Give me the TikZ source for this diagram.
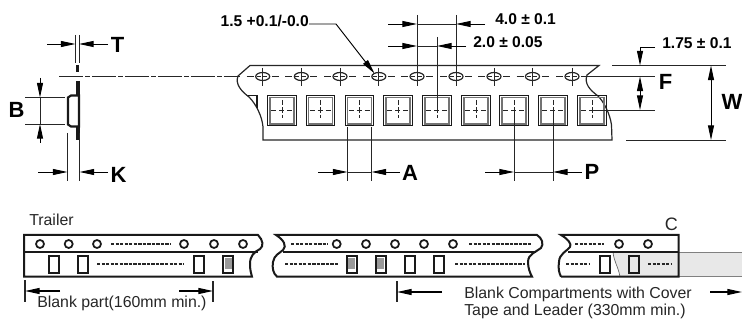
\documentclass[tikz,border=0pt]{standalone}
\usepackage{fontspec}
\setmainfont{Liberation Sans}
\usetikzlibrary{arrows.meta}
\tikzset{
  dim/.style={line width=0.7pt,black!85},
  ar/.style={line width=0.7pt,-{Stealth[length=11pt,width=4.5pt,inset=0pt]}},
  tape/.style={line width=0.9pt,black!85},
  tapeb/.style={line width=1.5pt,black!90},
  big/.style={font=\fontsize{16.5}{16.5}\selectfont\bfseries,inner sep=0pt},
  val/.style={font=\fontsize{11.7}{12}\selectfont\bfseries,inner sep=0pt,anchor=west},
  txt/.style={font=\fontsize{11.9}{12}\selectfont,inner sep=0pt,anchor=west,black!85},
  dd/.style={line width=1.5pt,dash pattern=on 2.5pt off 0.9pt,black!85},
  hole/.style={line width=1.3pt,black!90},
  comp/.style={line width=1.2pt,black!90},
}
\newcommand{\hcomp}[2]{\draw[comp] (#1-5,#2-8.5) rectangle (#1+5,#2+8.5);}
\newcommand{\fcomp}[2]{\fill[black!40] (#1-3.5,#2-6) rectangle (#1+3.5,#2+4.5);
  \draw[line width=1.8pt,black!90] (#1-5,#2-8.5) rectangle (#1+5,#2+8.5);}
\begin{document}
\begin{tikzpicture}[x=0.75pt,y=-0.75pt]
\useasboundingbox (0,0) rectangle (742,320);
% side view
\draw[dim] (75.5,35) -- (75.5,63) (79,35) -- (79,63);
\coordinate (tl) at (75.5,44); \coordinate (tr) at (79,44);
\draw[ar] (47,44) -- (tl); \draw[ar] (108,44) -- (tr);
\node[big] (T) at (117.5,44.5) {T};
\draw[line width=2.4pt,black!90] (77.5,65) -- (77.5,72);
\draw[dim,dash pattern=on 18pt off 1.6pt on 3.5pt off 1.6pt] (59,76.5) -- (240,76.5);
\draw[line width=2.6pt,black!90] (78,81) -- (78,95) (78,127) -- (78,140);
\draw[line width=1.6pt,black!90,line join=miter] (79,95.5) -- (71,95.5) -- (68,97.5) -- (68,124.5) -- (71,126.5) -- (79,126.5) -- cycle;
\draw[dim] (25,97.5) -- (65,97.5) (25,124) -- (65,124);
\coordinate (bt) at (40,97.5); \coordinate (bb) at (40,124);
\draw[dim] (bt) -- (bb);
\draw[ar] (40,78) -- (bt); \draw[ar] (40,143) -- (bb);
\node[big] (B) at (16.5,110) {B};
\draw[dim] (67.5,133) -- (67.5,181) (79.5,133) -- (79.5,181);
\coordinate (kl) at (67.5,172); \coordinate (kr) at (79.5,172);
\draw[ar] (38,172) -- (kl); \draw[ar] (108,172) -- (kr);
\node[big] (K) at (118.5,174.5) {K};
% main tape outline
\draw[tape] (238,76) -- (250,65.5) -- (599,65.5) -- (587,75)
  .. controls (584,84) and (590,90) .. (598,96) .. controls (604,102) and (610,114) .. (611.5,125) -- (612,140) -- (263,140) -- (263,127)
  .. controls (262,116) and (256,104) .. (249,97) .. controls (241,91) and (235,84) .. (238,76);
\draw[comp] (248,95.5) -- (257,95.5) -- (257,108);
% holes
\foreach \x in {262.7,301.3,340,378.8,417,456,494,532.5,572}{
  \draw[dim] (\x,68) -- (\x,86);
  \draw[dim] (\x-16,76.5) -- (\x-9,76.5) (\x+9,76.5) -- (\x+16,76.5);
  \draw[tape,fill=white] (\x,76.5) ellipse (7 and 4);
  \draw[dim,densely dashed] (\x-6,76.5) -- (\x+6,76.5);
  \draw[dim] (\x,73) -- (\x,80);
}
% compartments
\foreach \x in {282,320.5,359.5,398,437,476,514,553,592}{
  \draw[line width=0.9pt,black!90] (\x-14.2,95.7) rectangle (\x+14.2,125.7);
  \draw[line width=1.2pt,black!55] (\x-12,97.5) rectangle (\x+12,124);
  \draw[dim,dash pattern=on 4pt off 2pt] (\x-11,110) -- (\x+11,110);
  \draw[dim,dash pattern=on 4pt off 1.5pt] (\x,100) -- (\x,118);
}
% hole dia leader
\node[val,anchor=east] (hd) at (309,21) {1.5 +0.1/-0.0};
\coordinate (hs) at (309,24); \coordinate (hk) at (336,24); \coordinate (ht) at (374.5,73.5);
\draw[ar] (hs) -- (hk) -- (ht);
% 4.0 and 2.0
\draw[dim] (417,15) -- (417,70) (456,15) -- (456,70);
\draw[dim] (437,37) -- (437,110);
\coordinate (p0l) at (417,24); \coordinate (p0r) at (456,24);
\draw[dim] (p0l) -- (p0r);
\draw[ar] (388,24) -- (p0l); \draw[ar] (485,24) -- (p0r);
\node[val] (v4) at (495,19) {4.0 ± 0.1};
\coordinate (p2l) at (417,46); \coordinate (p2r) at (437,46);
\draw[dim] (p2l) -- (p2r);
\draw[ar] (388,46) -- (p2l); \draw[ar] (466,46) -- (p2r);
\node[val] (v2) at (473,42) {2.0 ± 0.05};
% right dims
\draw[dim] (612,65.5) -- (726,65.5);
\draw[dim] (626,140) -- (726,140);
\draw[dim] (586,76.5) -- (655,76.5);
\draw[dim] (592,110) -- (655,110);
\node[val] (v175) at (662,43) {1.75 ± 0.1};
\coordinate (la) at (640,65.5);
\draw[ar] (655,47) -- (640,47) -- (la);
\coordinate (fa) at (640,76.5); \coordinate (fb) at (640,110);
\draw[ar,{Stealth[length=11pt,width=4.5pt,inset=0pt]}-{Stealth[length=11pt,width=4.5pt,inset=0pt]}] (fa) -- (fb);
\node[big] (F) at (665.5,81.5) {F};
\coordinate (wa) at (711,65.5); \coordinate (wb) at (711,140);
\draw[ar,{Stealth[length=11pt,width=4.5pt,inset=0pt]}-{Stealth[length=11pt,width=4.5pt,inset=0pt]}] (wa) -- (wb);
\node[big] (W) at (732,102) {W};
% A
\draw[dim] (347.5,127) -- (347.5,181) (371.5,127) -- (371.5,181);
\coordinate (al) at (347.5,172); \coordinate (ar) at (371.5,172);
\draw[dim] (al) -- (ar);
\draw[ar] (318,172) -- (al); \draw[ar] (400,172) -- (ar);
\node[big] (A) at (410,172.5) {A};
% P
\draw[dim] (514,110) -- (514,181) (553,110) -- (553,181);
\coordinate (pl) at (514,172); \coordinate (pr) at (553,172);
\draw[dim] (pl) -- (pr);
\draw[ar] (485,172) -- (pl); \draw[ar] (582,172) -- (pr);
\node[big] (P) at (592,172) {P};
% lower strips
\fill[black!9] (679,252) rectangle (742,276.7);
\draw[line width=0.6pt,black!50] (679,252) -- (742,252) (679,276.7) -- (742,276.7);
\fill[black!9] (613,252) .. controls (614,262) and (618,266) .. (620,276.7) -- (678.7,276.7) -- (678.7,252) -- cycle;
\draw[line width=0.5pt,black!60] (613,252) .. controls (614,262) and (618,266) .. (620,276.7);
% strip 1
\draw[tapeb] (24,276.7) -- (24,235) -- (258,235) .. controls (263,240) and (264,246) .. (260,249)
  .. controls (254,252) and (250,256) .. (250,264) .. controls (250,270) and (251,273) .. (252,276.7) -- cycle;
\draw[tapeb] (24,251.7) -- (258,251.7);
% strip 2
\draw[tapeb] (276,235) -- (537,235) .. controls (542,238) and (544,244) .. (541,248)
  .. controls (536,252) and (528,254) .. (528,262) .. controls (528,268) and (530,273) .. (532,276.7)
  -- (277,276.7) .. controls (273,273) and (272,268) .. (273,262) .. controls (274,255) and (280,253) .. (283,250)
  .. controls (287,246) and (284,240) .. (276,235) -- cycle;
\draw[tapeb] (283,251.7) -- (536,251.7);
% strip 3
\draw[tapeb] (561,276.7) -- (678.7,276.7) -- (678.7,235) -- (561,235) .. controls (568,239) and (572,244) .. (570,247)
  .. controls (567,251) and (559,254) .. (559,262) .. controls (558,268) and (559,273) .. (561,276.7);
\draw[tapeb] (568,251.7) -- (678.7,251.7);
% holes
\foreach \x in {40,68.7,97,184,214,243,336.7,366,395,424,453,619,648}{
  \draw[hole] (\x,244) circle (4);
}
% compartments lower
\foreach \x in {54,83,199,410,439,604.7,634}{ \hcomp{\x}{264.5} }
\foreach \x in {228,351.7,380.7}{ \fcomp{\x}{264.5} }
% dashed runs
\foreach \a/\b/\y in {111/170/244,97/184/264.5,291/328/244,469/532/244,285/338/264.5,455/525/264.5,575/604/244,566/590/264.5,648/672/264.5}{
  \draw[dd] (\a,\y) -- (\b,\y);
}
% labels lower
\node[txt] (trailer) at (29,219.5) {Trailer};
\node[txt,font=\fontsize{13.5}{14}\selectfont] (C) at (664.5,224.5) {C};
\draw[dim,line width=0.9pt] (25,280) -- (25,302) (213,281) -- (213,302);
\coordinate (bl) at (25,291); \coordinate (br) at (213,291);
\draw[ar,line width=0.9pt] (60,291) -- (bl); \draw[ar,line width=0.9pt] (179,291) -- (br);
\node[txt] (blank) at (37,303.5) {Blank part(160mm min.)};
\draw[dim,line width=0.9pt] (397,281) -- (397,302);
\coordinate (cl) at (397,292); \coordinate (crr) at (742,292);
\draw[ar,line width=0.9pt] (442,292) -- (cl); \draw[ar,line width=0.9pt] (710,292) -- (crr);
\node[txt] (bc1) at (464,294) {Blank Compartments with Cover};
\node[txt] (bc2) at (464,311.5) {Tape and Leader (330mm min.)};
\end{tikzpicture}
\end{document}
